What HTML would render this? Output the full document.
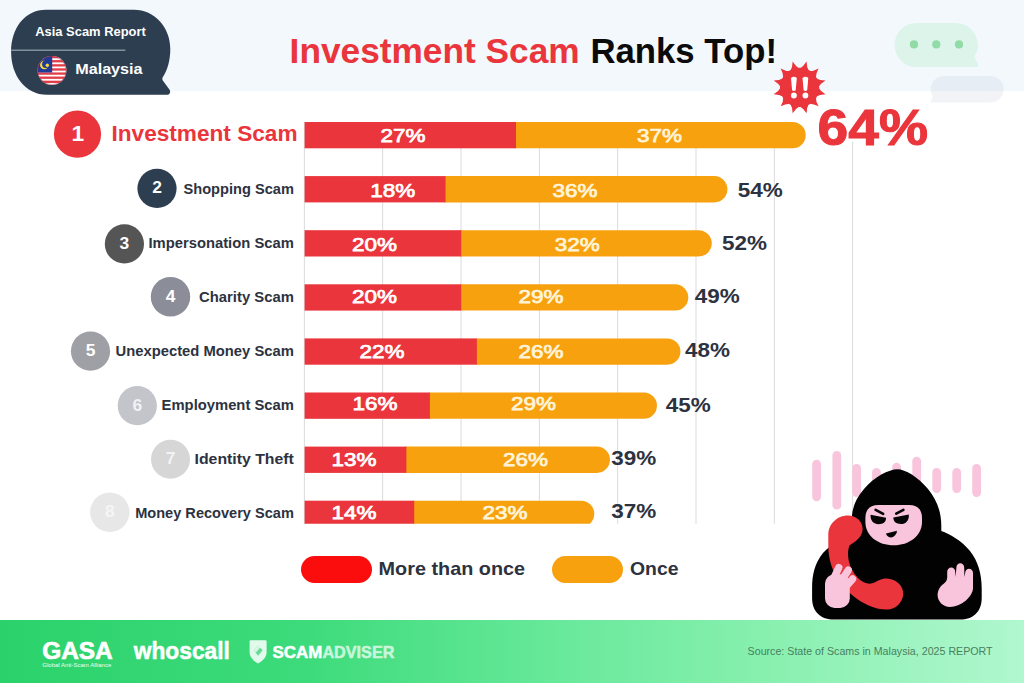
<!DOCTYPE html>
<html lang="en"><head><meta charset="utf-8"><title>Investment Scam Ranks Top!</title>
<style>
html,body{margin:0;padding:0;background:#fff;}
body{width:1024px;height:683px;position:relative;overflow:hidden;font-family:"Liberation Sans",sans-serif;}
.abs{position:absolute;}
#hdr{left:0;top:0;width:1024px;height:91px;background:#f2f8fc;}
#ftr{left:0;top:620px;width:1024px;height:63px;background:linear-gradient(90deg,#2bd26b 0%,#3ddb7b 30%,#69e99b 55%,#88f0af 75%,#b1f7cf 100%);}
svg{position:absolute;left:0;top:0;}
text{font-family:"Liberation Sans",sans-serif;}
</style></head><body>
<div id="hdr" class="abs"></div>
<div id="ftr" class="abs"></div>

<div class="abs" style="left:301px;top:556px;width:70.5px;height:27px;border-radius:13.5px;background:#fb0d0d"></div>
<div class="abs" style="left:552px;top:556px;width:70.5px;height:27px;border-radius:13.5px;background:#f7a10f"></div>
<svg width="1024" height="683" viewBox="0 0 1024 683">
<rect x="303.90" y="122" width="0.9" height="401.8" fill="#d6d7da"/>
<rect x="382.23" y="122" width="0.9" height="401.8" fill="#d6d7da"/>
<rect x="460.56" y="122" width="0.9" height="401.8" fill="#d6d7da"/>
<rect x="538.89" y="122" width="0.9" height="401.8" fill="#d6d7da"/>
<rect x="617.22" y="122" width="0.9" height="401.8" fill="#d6d7da"/>
<rect x="695.55" y="122" width="0.9" height="401.8" fill="#d6d7da"/>
<rect x="773.88" y="122" width="0.9" height="401.8" fill="#d6d7da"/>
<rect x="852.21" y="141.5" width="0.9" height="382.3" fill="#d6d7da"/>
<defs><clipPath id="pc"><rect x="0" y="0" width="1024" height="523.8"/></clipPath></defs><g clip-path="url(#pc)">
<path d="M515.0,122.00 L792.57,122.00 A13.15,13.15 0 0 1 792.57,148.30 L515.0,148.30 Z" fill="#f7a10f"/>
<rect x="304.6" y="122.00" width="211.41" height="26.3" fill="#e9353b"/>
<path d="M444.5,176.10 L714.27,176.10 A13.15,13.15 0 0 1 714.27,202.40 L444.5,202.40 Z" fill="#f7a10f"/>
<rect x="304.6" y="176.10" width="140.94" height="26.3" fill="#e9353b"/>
<path d="M460.2,230.20 L698.61,230.20 A13.15,13.15 0 0 1 698.61,256.50 L460.2,256.50 Z" fill="#f7a10f"/>
<rect x="304.6" y="230.20" width="156.60" height="26.3" fill="#e9353b"/>
<path d="M460.2,284.30 L675.12,284.30 A13.15,13.15 0 0 1 675.12,310.60 L460.2,310.60 Z" fill="#f7a10f"/>
<rect x="304.6" y="284.30" width="156.60" height="26.3" fill="#e9353b"/>
<path d="M475.9,338.40 L667.29,338.40 A13.15,13.15 0 0 1 667.29,364.70 L475.9,364.70 Z" fill="#f7a10f"/>
<rect x="304.6" y="338.40" width="172.26" height="26.3" fill="#e9353b"/>
<path d="M428.9,392.50 L643.80,392.50 A13.15,13.15 0 0 1 643.80,418.80 L428.9,418.80 Z" fill="#f7a10f"/>
<rect x="304.6" y="392.50" width="125.28" height="26.3" fill="#e9353b"/>
<path d="M405.4,446.60 L596.82,446.60 A13.15,13.15 0 0 1 596.82,472.90 L405.4,472.90 Z" fill="#f7a10f"/>
<rect x="304.6" y="446.60" width="101.79" height="26.3" fill="#e9353b"/>
<path d="M413.2,500.70 L581.16,500.70 A13.15,13.15 0 0 1 581.16,527.00 L413.2,527.00 Z" fill="#f7a10f"/>
<rect x="304.6" y="500.70" width="109.62" height="26.3" fill="#e9353b"/>
</g>
<circle cx="77.5" cy="134.1" r="23.6" fill="#e9353b"/>
<text x="77.9" y="141.4" font-size="22.8" font-weight="700" fill="#fff" text-anchor="middle">1</text>
<text x="111.5" y="140.9" font-size="22.5" font-weight="700" fill="#e9353b" textLength="186.0" lengthAdjust="spacingAndGlyphs">Investment Scam</text>
<circle cx="157.0" cy="188.4" r="19.6" fill="#2c3e50"/>
<text x="157.0" y="193.3" font-size="17.4" font-weight="700" fill="#fff" fill-opacity="1" text-anchor="middle">2</text>
<text x="183.5" y="194.0" font-size="15.2" font-weight="700" fill="#2d3240" textLength="110.4" lengthAdjust="spacingAndGlyphs">Shopping Scam</text>
<circle cx="124.4" cy="243.9" r="19.6" fill="#555555"/>
<text x="124.4" y="248.8" font-size="17.4" font-weight="700" fill="#fff" fill-opacity="1" text-anchor="middle">3</text>
<text x="148.4" y="248.1" font-size="15.2" font-weight="700" fill="#2d3240" textLength="145.5" lengthAdjust="spacingAndGlyphs">Impersonation Scam</text>
<circle cx="170.5" cy="296.7" r="19.7" fill="#8b8d98"/>
<text x="170.5" y="301.59999999999997" font-size="17.4" font-weight="700" fill="#fff" fill-opacity="1" text-anchor="middle">4</text>
<text x="199.0" y="302.1" font-size="15.2" font-weight="700" fill="#2d3240" textLength="94.9" lengthAdjust="spacingAndGlyphs">Charity Scam</text>
<circle cx="90.5" cy="351.2" r="19.6" fill="#9fa0a6"/>
<text x="90.5" y="356.09999999999997" font-size="17.4" font-weight="700" fill="#fff" fill-opacity="1" text-anchor="middle">5</text>
<text x="115.5" y="356.1" font-size="15.2" font-weight="700" fill="#2d3240" textLength="178.4" lengthAdjust="spacingAndGlyphs">Unexpected Money Scam</text>
<circle cx="137.3" cy="405.7" r="19.6" fill="#c3c5cb"/>
<text x="137.3" y="410.59999999999997" font-size="17.4" font-weight="700" fill="#fff" fill-opacity="0.8" text-anchor="middle">6</text>
<text x="161.6" y="410.2" font-size="15.2" font-weight="700" fill="#2d3240" textLength="132.3" lengthAdjust="spacingAndGlyphs">Employment Scam</text>
<circle cx="170.5" cy="459.2" r="19.5" fill="#d6d6d6"/>
<text x="170.5" y="464.09999999999997" font-size="17.4" font-weight="700" fill="#fff" fill-opacity="0.72" text-anchor="middle">7</text>
<text x="194.5" y="464.2" font-size="15.2" font-weight="700" fill="#2d3240" textLength="99.4" lengthAdjust="spacingAndGlyphs">Identity Theft</text>
<circle cx="109.8" cy="512.3" r="19.7" fill="#e7e7e8"/>
<text x="109.8" y="517.1999999999999" font-size="17.4" font-weight="700" fill="#fff" fill-opacity="0.6" text-anchor="middle">8</text>
<text x="135.2" y="518.3" font-size="15.2" font-weight="700" fill="#2d3240" textLength="158.7" lengthAdjust="spacingAndGlyphs">Money Recovery Scam</text>
<text x="380.5" y="141.7" font-size="19" fill="#fff" stroke="#fff" stroke-width="0.75" textLength="45.0" lengthAdjust="spacingAndGlyphs">27%</text>
<text x="637.0" y="141.7" font-size="19" fill="#fff4d9" stroke="#fff4d9" stroke-width="0.75" textLength="45.0" lengthAdjust="spacingAndGlyphs">37%</text>
<text x="370.2" y="197.2" font-size="19" fill="#fff" stroke="#fff" stroke-width="0.75" textLength="45.0" lengthAdjust="spacingAndGlyphs">18%</text>
<text x="552.4" y="197.2" font-size="19" fill="#fff4d9" stroke="#fff4d9" stroke-width="0.75" textLength="45.0" lengthAdjust="spacingAndGlyphs">36%</text>
<text x="737.8" y="197.1" font-size="19.4" font-weight="700" fill="#2d3240" textLength="45.0" lengthAdjust="spacingAndGlyphs">54%</text>
<text x="352.0" y="250.6" font-size="19" fill="#fff" stroke="#fff" stroke-width="0.75" textLength="45.0" lengthAdjust="spacingAndGlyphs">20%</text>
<text x="554.7" y="250.6" font-size="19" fill="#fff4d9" stroke="#fff4d9" stroke-width="0.75" textLength="45.0" lengthAdjust="spacingAndGlyphs">32%</text>
<text x="722.0" y="249.7" font-size="19.4" font-weight="700" fill="#2d3240" textLength="45.0" lengthAdjust="spacingAndGlyphs">52%</text>
<text x="352.0" y="303.0" font-size="19" fill="#fff" stroke="#fff" stroke-width="0.75" textLength="45.0" lengthAdjust="spacingAndGlyphs">20%</text>
<text x="518.4" y="303.0" font-size="19" fill="#fff4d9" stroke="#fff4d9" stroke-width="0.75" textLength="45.0" lengthAdjust="spacingAndGlyphs">29%</text>
<text x="694.7" y="302.8" font-size="19.4" font-weight="700" fill="#2d3240" textLength="45.0" lengthAdjust="spacingAndGlyphs">49%</text>
<text x="359.4" y="357.6" font-size="19" fill="#fff" stroke="#fff" stroke-width="0.75" textLength="45.0" lengthAdjust="spacingAndGlyphs">22%</text>
<text x="518.4" y="357.6" font-size="19" fill="#fff4d9" stroke="#fff4d9" stroke-width="0.75" textLength="45.0" lengthAdjust="spacingAndGlyphs">26%</text>
<text x="685.1" y="357.3" font-size="19.4" font-weight="700" fill="#2d3240" textLength="45.0" lengthAdjust="spacingAndGlyphs">48%</text>
<text x="352.4" y="410.3" font-size="19" fill="#fff" stroke="#fff" stroke-width="0.75" textLength="45.0" lengthAdjust="spacingAndGlyphs">16%</text>
<text x="511.1" y="410.3" font-size="19" fill="#fff4d9" stroke="#fff4d9" stroke-width="0.75" textLength="45.0" lengthAdjust="spacingAndGlyphs">29%</text>
<text x="665.8" y="412.3" font-size="19.4" font-weight="700" fill="#2d3240" textLength="45.0" lengthAdjust="spacingAndGlyphs">45%</text>
<text x="331.6" y="465.7" font-size="19" fill="#fff" stroke="#fff" stroke-width="0.75" textLength="45.0" lengthAdjust="spacingAndGlyphs">13%</text>
<text x="503.1" y="465.7" font-size="19" fill="#fff4d9" stroke="#fff4d9" stroke-width="0.75" textLength="45.0" lengthAdjust="spacingAndGlyphs">26%</text>
<text x="611.3" y="464.8" font-size="19.4" font-weight="700" fill="#2d3240" textLength="45.0" lengthAdjust="spacingAndGlyphs">39%</text>
<text x="331.6" y="518.7" font-size="19" fill="#fff" stroke="#fff" stroke-width="0.75" textLength="45.0" lengthAdjust="spacingAndGlyphs">14%</text>
<text x="482.5" y="518.7" font-size="19" fill="#fff4d9" stroke="#fff4d9" stroke-width="0.75" textLength="45.0" lengthAdjust="spacingAndGlyphs">23%</text>
<text x="611.3" y="518.4" font-size="19.4" font-weight="700" fill="#2d3240" textLength="45.0" lengthAdjust="spacingAndGlyphs">37%</text>
<text x="817.5" y="145.4" font-size="50.5" font-weight="700" fill="#e9353b" stroke="#e9353b" stroke-width="1" textLength="110.5" lengthAdjust="spacingAndGlyphs">64%</text>
<text x="289.6" y="62.9" font-size="34.5" font-weight="700" fill="#e9353b" textLength="290" lengthAdjust="spacingAndGlyphs">Investment Scam</text>
<text x="590.4" y="62.9" font-size="34.5" font-weight="700" fill="#0b0b0b" textLength="186.6" lengthAdjust="spacingAndGlyphs">Ranks Top!</text>
<text x="378.6" y="575.3" font-size="19" font-weight="700" fill="#2d3240" textLength="146.5" lengthAdjust="spacingAndGlyphs">More than once</text>
<text x="630" y="575.3" font-size="19" font-weight="700" fill="#2d3240" textLength="48.5" lengthAdjust="spacingAndGlyphs">Once</text>
<text x="747.6" y="655.3" font-size="11.6" fill="#487f61" textLength="245" lengthAdjust="spacingAndGlyphs">Source: State of Scams in Malaysia, 2025 REPORT</text>
<path d="M46,9.8 L134,9.8 C154.5,9.8 170.3,27.5 170.3,49 C170.3,60.5 167.3,70.5 162.6,77.6 Q161.8,79 162.8,80.4 L169.4,89.4 C171.2,92 169.6,94.8 166.6,94.8 L47,94.8 C25,94.8 11.1,75 11.1,52 C11.1,28 25,9.8 46,9.8 Z" fill="#2c3e50"/>
<rect x="11.3" y="49.7" width="114" height="0.9" fill="#bcc6d0"/>
<text x="35.2" y="35.8" font-size="12.4" font-weight="700" fill="#fff" textLength="110.6" lengthAdjust="spacingAndGlyphs">Asia Scam Report</text>
<text x="75.2" y="73.9" font-size="15.4" font-weight="700" fill="#fff" textLength="67.4" lengthAdjust="spacingAndGlyphs">Malaysia</text>
<defs><clipPath id="fc"><circle cx="52" cy="70.5" r="14.4"/></clipPath></defs>
<g clip-path="url(#fc)">
<rect x="37" y="56" width="30" height="29" fill="#fff"/>
<rect x="37" y="55.98" width="30" height="2.30" fill="#e23c47"/>
<rect x="37" y="60.09" width="30" height="2.30" fill="#e23c47"/>
<rect x="37" y="64.21" width="30" height="2.30" fill="#e23c47"/>
<rect x="37" y="68.32" width="30" height="2.30" fill="#e23c47"/>
<rect x="37" y="72.44" width="30" height="2.30" fill="#e23c47"/>
<rect x="37" y="76.55" width="30" height="2.30" fill="#e23c47"/>
<rect x="37" y="80.67" width="30" height="2.30" fill="#e23c47"/>
<rect x="37" y="56" width="15.2" height="16.5" fill="#1f3b96"/>
<circle cx="44.3" cy="65" r="4.3" fill="#f6d638"/>
<circle cx="45.8" cy="64.3" r="3.7" fill="#1f3b96"/>
<circle cx="47.3" cy="65.3" r="1.7" fill="#f6d638"/>
</g>
<circle cx="52" cy="70.5" r="14.2" fill="none" stroke="#a8283a" stroke-opacity="0.55" stroke-width="0.8"/>
<path d="M916.7,22.9 L955.7,22.9 A22.1,22.1 0 0 1 974.5,56.6 L978.2,65.5 Q978.6,67.2 976.8,67.1 L916.7,67.1 A22.1,22.1 0 0 1 916.7,22.9 Z" fill="#dcf4ea"/>
<circle cx="914" cy="44.4" r="4.1" fill="#90dba6"/>
<circle cx="936.3" cy="44.4" r="4.1" fill="#90dba6"/>
<circle cx="959" cy="44.4" r="4.1" fill="#90dba6"/>
<defs><clipPath id="gb1"><rect x="900" y="60" width="124" height="31"/></clipPath><clipPath id="gb2"><rect x="900" y="91" width="124" height="30"/></clipPath></defs>
<path d="M943.1,75.9 L990.4,75.9 A13.3,13.3 0 0 1 990.4,102.5 L932,102.5 Q930.3,102.5 931,100.8 L933,96.5 A13.3,13.3 0 0 1 943.1,75.9 Z" fill="#e7edf4" clip-path="url(#gb1)"/>
<path d="M943.1,75.9 L990.4,75.9 A13.3,13.3 0 0 1 990.4,102.5 L932,102.5 Q930.3,102.5 931,100.8 L933,96.5 A13.3,13.3 0 0 1 943.1,75.9 Z" fill="#f1f3f6" clip-path="url(#gb2)"/>
<path d="M799.93,68.40 Q803.46,66.55 806.54,61.51 Q806.68,67.42 808.81,70.78 Z M809.39,71.11 Q813.37,71.28 818.55,68.45 Q815.72,73.63 815.89,77.61 Z M816.22,78.19 Q819.58,80.32 825.49,80.46 Q820.45,83.54 818.60,87.07 Z M818.60,87.73 Q820.45,91.26 825.49,94.34 Q819.58,94.48 816.22,96.61 Z M815.89,97.19 Q815.72,101.17 818.55,106.35 Q813.37,103.52 809.39,103.69 Z M808.81,104.02 Q806.68,107.38 806.54,113.29 Q803.46,108.25 799.93,106.40 Z M799.27,106.40 Q795.74,108.25 792.66,113.29 Q792.52,107.38 790.39,104.02 Z M789.81,103.69 Q785.83,103.52 780.65,106.35 Q783.48,101.17 783.31,97.19 Z M782.98,96.61 Q779.62,94.48 773.71,94.34 Q778.75,91.26 780.60,87.73 Z M780.60,87.07 Q778.75,83.54 773.71,80.46 Q779.62,80.32 782.98,78.19 Z M783.31,77.61 Q783.48,73.63 780.65,68.45 Q785.83,71.28 789.81,71.11 Z M790.39,70.78 Q792.52,67.42 792.66,61.51 Q795.74,66.55 799.27,68.40 Z " fill="#e9353b"/>
<circle cx="799.6" cy="87.4" r="19.6" fill="#e9353b"/>
<path d="M791.0,78 Q793.9,75.6 796.8,78 L795.6999999999999,90.2 Q793.9,91.6 792.1,90.2 Z" fill="#fff"/>
<circle cx="793.9" cy="95.5" r="2.9" fill="#fff"/>
<path d="M802.5,78 Q805.4,75.6 808.3,78 L807.1999999999999,90.2 Q805.4,91.6 803.6,90.2 Z" fill="#fff"/>
<circle cx="805.4" cy="95.5" r="2.9" fill="#fff"/>
<rect x="812.2" y="459.8" width="8.8" height="41.4" rx="4.4" fill="#f9c5dd"/>
<rect x="832.4" y="451" width="8.8" height="58.6" rx="4.4" fill="#f9c5dd"/>
<rect x="852.2" y="464" width="8.8" height="33.0" rx="4.4" fill="#f9c5dd"/>
<rect x="872.1" y="468" width="8.8" height="32.0" rx="4.4" fill="#f9c5dd"/>
<rect x="892.2" y="462.7" width="8.8" height="37.3" rx="4.4" fill="#f9c5dd"/>
<rect x="912.3" y="456.8" width="8.8" height="43.2" rx="4.4" fill="#f9c5dd"/>
<rect x="932.3" y="468" width="8.8" height="25.0" rx="4.4" fill="#f9c5dd"/>
<rect x="952.3" y="468" width="8.8" height="25.0" rx="4.4" fill="#f9c5dd"/>
<rect x="972.2" y="464" width="8.8" height="33.0" rx="4.4" fill="#f9c5dd"/>
<path d="M897.5,469.3 C905,469.3 918,477 928,489 C937,500 941.3,512 941.3,526 L941.3,531 C950,534 962,541 970,551 C978,561 981.7,574 981.7,588 L981.7,598 C981.7,612 973,619.6 960,619.6 L834,619.6 C821,619.6 812.1,612 812.1,598 L812.1,588 C812.1,574 815,563 823,553 C830,545 840,540 851.8,536 L851.8,520 C851.8,508 856,498 864,489 C874,477 889,469.3 897.5,469.3 Z" fill="#020202"/>
<path d="M865.4,518 C865.4,509.5 870,505 878.5,505 L909,505 C917.4,505 922,509.5 922,518 L922,522 C922,536 909,545.3 893.7,545.3 C878,545.3 865.4,536 865.4,522 Z" fill="#f9c5dd"/>
<path d="M870.6,514.8 L886,517.8 C886.4,521.6 883.2,524.2 878.5,524.2 C873.8,524.2 870,520.6 870.6,514.8 Z" fill="#050505"/>
<path d="M875.6,509.8 L883.2,513.8" stroke="#050505" stroke-width="2.6" stroke-linecap="round"/>
<path d="M908.8,514.4 L893.4,517.6 C893,521.4 896.2,524 900.9,524 C905.6,524 909.4,520.4 908.8,514.4 Z" fill="#050505"/>
<path d="M903.4,509.8 L896.2,513.6" stroke="#050505" stroke-width="2.6" stroke-linecap="round"/>
<path d="M886,533.6 L897,530.8 C896.6,535 893.6,537.6 890.6,537.4 C888,537.2 886.4,535.6 886,533.6 Z" fill="#050505"/>
<path d="M848,515.5 C856,515.5 862.6,521 862.6,529 C862.6,537 856,541 849.5,545.5 C847.6,550 847.8,555 848.6,560 C850,567 853,573 858,578 C862,582 867,584.2 871,583.6 C874,583 876,581.6 879,580.2 C883,578.4 887,578.2 891,579.2 C898,581 903.2,586.5 903.2,593.5 C903.2,602 896,609.6 887,609.6 C880,609.6 874,608 868,605.2 C858,600.6 848,593 840,582 C832,571 828.3,559 828.3,545 L828.3,535 C828.3,524 837,515.5 848,515.5 Z" fill="#e9353b"/>
<rect x="825" y="574.2" width="24.8" height="33.7" rx="9.5" fill="#f9c5dd"/>
<path d="M833.2,579.5 L838.8,567.6 M841.6,580.5 L848.2,570.2 M846.4,586 L852.6,579" stroke="#f9c5dd" stroke-width="7.4" stroke-linecap="round" fill="none"/>
<path d="M947.2,571.8 C947.2,569.2 949.2,567.4 951.2,567.4 C953.4,567.4 955.2,569.2 955.2,571.8 L955.6,577 L956.4,567.6 C956.4,565 958.2,563.2 960.2,563.2 C962.4,563.2 964.2,565 964.2,567.6 L964.4,577 L965.2,573 C965.2,570.6 967,568.8 969,568.8 C971.2,568.8 973,570.6 973,573 L973,588 C973,592 970,597 966,600.4 C961,604.6 955,606.9 950,606.9 C943,606.9 937.6,601.5 937.6,595 C937.6,590 940.6,585.6 944,583.4 C945.8,582 947.2,580 947.2,577.4 Z" fill="#f9c5dd"/>
<text x="42.2" y="658.8" font-size="23.4" font-weight="700" fill="#fff" stroke="#fff" stroke-width="0.7" textLength="70.4" lengthAdjust="spacingAndGlyphs">GASA</text>
<text x="42.3" y="666.6" font-size="5.4" fill="#eafff2" textLength="69" lengthAdjust="spacingAndGlyphs">Global Anti-Scam Alliance</text>
<text x="133.8" y="658.8" font-size="24.2" font-weight="700" fill="#fff" stroke="#fff" stroke-width="0.5" textLength="96" lengthAdjust="spacingAndGlyphs">whoscall</text>
<path d="M250.8,640.2 L265.4,640.2 Q266.6,640.2 266.6,641.4 L266.6,652 C266.6,657.2 262.8,661 258.1,663.4 C253.4,661 249.6,657.2 249.6,652 L249.6,641.4 Q249.6,640.2 250.8,640.2 Z" fill="#e2faec"/>
<path d="M258.1,645.4 L262.6,650.2 L258.1,655.8 L253.6,650.2 Z" fill="#62dd93"/>
<path d="M253.6,650.2 L258.1,645.4 L260.2,647.6 L255.8,652.8 Z" fill="#ffffff" fill-opacity="0.75"/>
<text x="272.6" y="657.5" font-size="16.4" font-weight="700" fill="#fff" stroke="#fff" stroke-width="0.5" textLength="49.6" lengthAdjust="spacingAndGlyphs">SCAM</text>
<text x="322.4" y="657.5" font-size="16.4" font-weight="700" fill="#c9f6db" stroke="#c9f6db" stroke-width="0.5" textLength="72" lengthAdjust="spacingAndGlyphs">ADVISER</text>
</svg>
</body></html>
